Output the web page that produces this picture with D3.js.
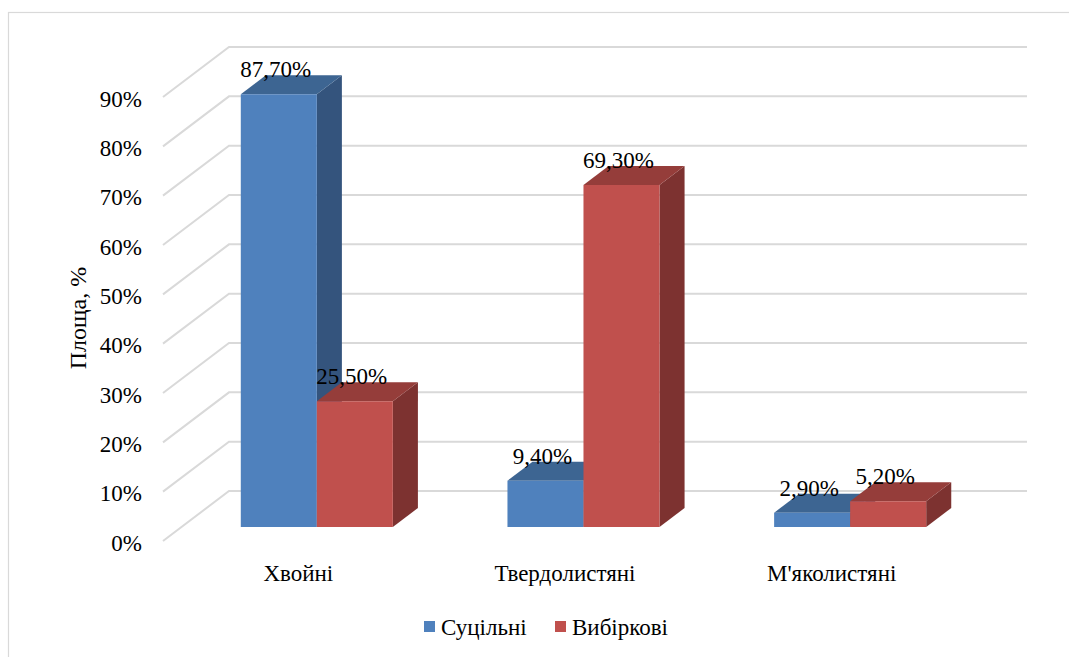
<!DOCTYPE html>
<html>
<head>
<meta charset="utf-8">
<script src="https://cdn.jsdelivr.net/npm/d3@7"></script>
<style>
  html, body { margin: 0; padding: 0; background: #fff; }
  svg { display: block; }
</style>
</head>
<body>
<svg id="chart" width="1069" height="657"></svg>
<script>
// Forest area by felling type, per tree group
const categories = ["Хвойні", "Твердолистяні", "М'яколистяні"];
const seriesNames = ["Суцільні", "Вибіркові"];
const solidValues = [87.7, 9.4, 2.9];      // Суцільні, %
const selectiveValues = [25.5, 69.3, 5.2]; // Вибіркові, %
const tickValues = [0, 10, 20, 30, 40, 50, 60, 70, 80, 90];
const tickLabels = ["0%", "10%", "20%", "30%", "40%", "50%", "60%", "70%", "80%", "90%"];

const palette = {
  "Суцільні":  { front: "#4F81BD", top: "#3D6592", side: "#34547D" },
  "Вибіркові": { front: "#C0504D", top: "#953D3A", side: "#7D3230" }
};

const FONT = "'Liberation Serif', 'Noto Serif', 'DejaVu Serif', FreeSerif, 'Nimbus Roman', 'Nimbus Roman No9 L', Tinos, 'Times New Roman', Times, serif";
const svg = d3.select("#chart");

// 3D projection: depth z in [0,1] shifts points right/up
const DX = 66, DY = 50;
const wallLeft = 163, wallRight = 1027;
const zFront = 0.28, zBack = 0.66;

const y = d3.scaleLinear().domain([0, 90]).range([541, 97]);
const x = d3.scaleBand().domain(categories).range([165, 965]).paddingInner(0).paddingOuter(0);
const xs = d3.scaleBand().domain(seriesNames).range([0, x.bandwidth()]).paddingInner(0).paddingOuter(0.754);

const P = (px, v, z) => [px + z * DX, y(v) - z * DY];

// chart area border
svg.append("rect")
  .attr("x", 8.5).attr("y", 12.5).attr("width", 1070).attr("height", 660)
  .attr("fill", "none").attr("stroke", "#d9d9d9").attr("stroke-width", 1.2);

// gridlines on side wall and back wall
const grid = svg.append("g").attr("fill", "none").attr("stroke", "#d9d9d9").attr("stroke-width", 2);
tickValues.forEach(t => {
  const a = P(wallLeft, t, 0), b = P(wallLeft, t, 1);
  grid.append("path").attr("d", `M${a[0]},${a[1]}L${b[0]},${b[1]}L${wallRight},${b[1]}`);
});

// axis tick labels
svg.append("g").selectAll("text").data(tickValues).join("text")
  .attr("x", 142).attr("y", d => y(d) + 2)
  .attr("text-anchor", "end").attr("dominant-baseline", "central")
  .attr("font-family", FONT).attr("font-size", 23).attr("fill", "#000")
  .text((d, i) => tickLabels[i]);

// axis title
svg.append("text")
  .attr("transform", "translate(86,318) rotate(-90)")
  .attr("text-anchor", "middle").attr("font-family", FONT).attr("font-size", 24).attr("fill", "#000")
  .text("Площа, %");

// bars as prisms
const rows = [];
categories.forEach((c, i) => {
  rows.push({ cat: c, series: seriesNames[0], value: solidValues[i] });
  rows.push({ cat: c, series: seriesNames[1], value: selectiveValues[i] });
});

const bars = svg.append("g");
rows.forEach(r => {
  const x0 = x(r.cat) + xs(r.series), x1 = x0 + xs.bandwidth();
  const col = palette[r.series];
  const pts = arr => arr.map(p => p.join(",")).join(" ");
  const fBL = P(x0, 0, zFront), fBR = P(x1, 0, zFront), fTR = P(x1, r.value, zFront), fTL = P(x0, r.value, zFront);
  const bTL = P(x0, r.value, zBack), bTR = P(x1, r.value, zBack), bBR = P(x1, 0, zBack);
  const g = bars.append("g");
  g.append("polygon").attr("points", pts([fBR, bBR, bTR, fTR])).attr("fill", col.side);
  g.append("polygon").attr("points", pts([fTL, fTR, bTR, bTL])).attr("fill", col.top);
  g.append("polygon").attr("points", pts([fBL, fBR, fTR, fTL])).attr("fill", col.front);
  r.labelX = (fBL[0] + fBR[0]) / 2 - 3;
  r.labelY = fTL[1] - 17;
});

// value labels
const fmt = v => d3.format(".2f")(v).replace(".", ",") + "%";
svg.append("g").selectAll("text").data(rows).join("text")
  .attr("x", d => d.labelX).attr("y", d => d.labelY)
  .attr("text-anchor", "middle").attr("font-family", FONT).attr("font-size", 23).attr("fill", "#000")
  .text(d => fmt(d.value));

// category labels
svg.append("g").selectAll("text").data(categories).join("text")
  .attr("x", d => x(d) + x.bandwidth() / 2).attr("y", 581)
  .attr("text-anchor", "middle").attr("font-family", FONT).attr("font-size", 23).attr("fill", "#000")
  .text(d => d);

// legend
const legend = svg.append("g");
const legendItems = [{ name: seriesNames[0], x: 424 }, { name: seriesNames[1], x: 555 }];
legendItems.forEach(it => {
  legend.append("rect").attr("x", it.x).attr("y", 621).attr("width", 11).attr("height", 11)
    .attr("fill", palette[it.name].front);
  legend.append("text").attr("x", it.x + 17).attr("y", 635)
    .attr("font-family", FONT).attr("font-size", 23).attr("fill", "#000").text(it.name);
});
</script>
</body>
</html>
